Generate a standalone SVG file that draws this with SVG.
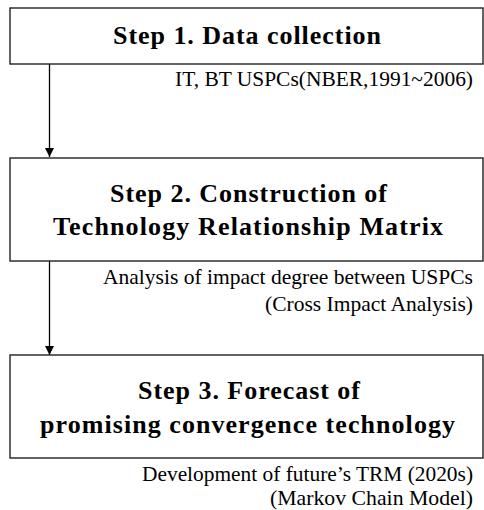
<svg xmlns="http://www.w3.org/2000/svg" width="484" height="510" viewBox="0 0 484 510">
<style>
.box{fill:#fff;stroke:#222;stroke-width:1.4}
.t{font-family:'Liberation Serif','DejaVu Serif','Times New Roman',serif;font-weight:bold;font-size:26px;text-anchor:middle;fill:#000}
.s{font-family:'Liberation Serif','DejaVu Serif','Times New Roman',serif;font-size:21px;text-anchor:end;fill:#000}
.c{stroke:#000;stroke-width:1.3;fill:none}
</style>
<defs>
<marker id="ah" markerWidth="9" markerHeight="9" refX="9" refY="4.5" orient="auto" markerUnits="userSpaceOnUse">
<path d="M0,0 L9,4.5 L0,9 z" fill="#000"/>
</marker>
</defs>
<rect width="484" height="510" fill="#fff"/>
<g id="connectors">
<line class="c" x1="49.5" y1="64" x2="49.5" y2="157" marker-end="url(#ah)"/>
<line class="c" x1="49.5" y1="261" x2="49.5" y2="355" marker-end="url(#ah)"/>
</g>
<g id="step1">
<rect class="box" x="10" y="8" width="473" height="56"/>
<text class="t" x="247" y="44" textLength="268" lengthAdjust="spacing">Step 1. Data collection</text>
<text class="s" x="473" y="86" textLength="298" lengthAdjust="spacingAndGlyphs">IT, BT USPCs(NBER,1991~2006)</text>
</g>
<g id="step2">
<rect class="box" x="10" y="158" width="473" height="103"/>
<text class="t" x="248.5" y="202" textLength="277" lengthAdjust="spacing">Step 2. Construction of</text>
<text class="t" x="248" y="235" textLength="390" lengthAdjust="spacing">Technology Relationship Matrix</text>
<text class="s" x="473" y="284" textLength="370" lengthAdjust="spacingAndGlyphs">Analysis of impact degree between USPCs</text>
<text class="s" x="473" y="311" textLength="208" lengthAdjust="spacingAndGlyphs">(Cross Impact Analysis)</text>
</g>
<g id="step3">
<rect class="box" x="10" y="355" width="473" height="103"/>
<text class="t" x="249" y="399" textLength="222" lengthAdjust="spacing">Step 3. Forecast of</text>
<text class="t" x="247.5" y="433" textLength="415" lengthAdjust="spacing">promising convergence technology</text>
<text class="s" x="473" y="481" textLength="331" lengthAdjust="spacingAndGlyphs">Development of future’s TRM (2020s)</text>
<text class="s" x="473" y="505" textLength="203" lengthAdjust="spacingAndGlyphs">(Markov Chain Model)</text>
</g>
</svg>
